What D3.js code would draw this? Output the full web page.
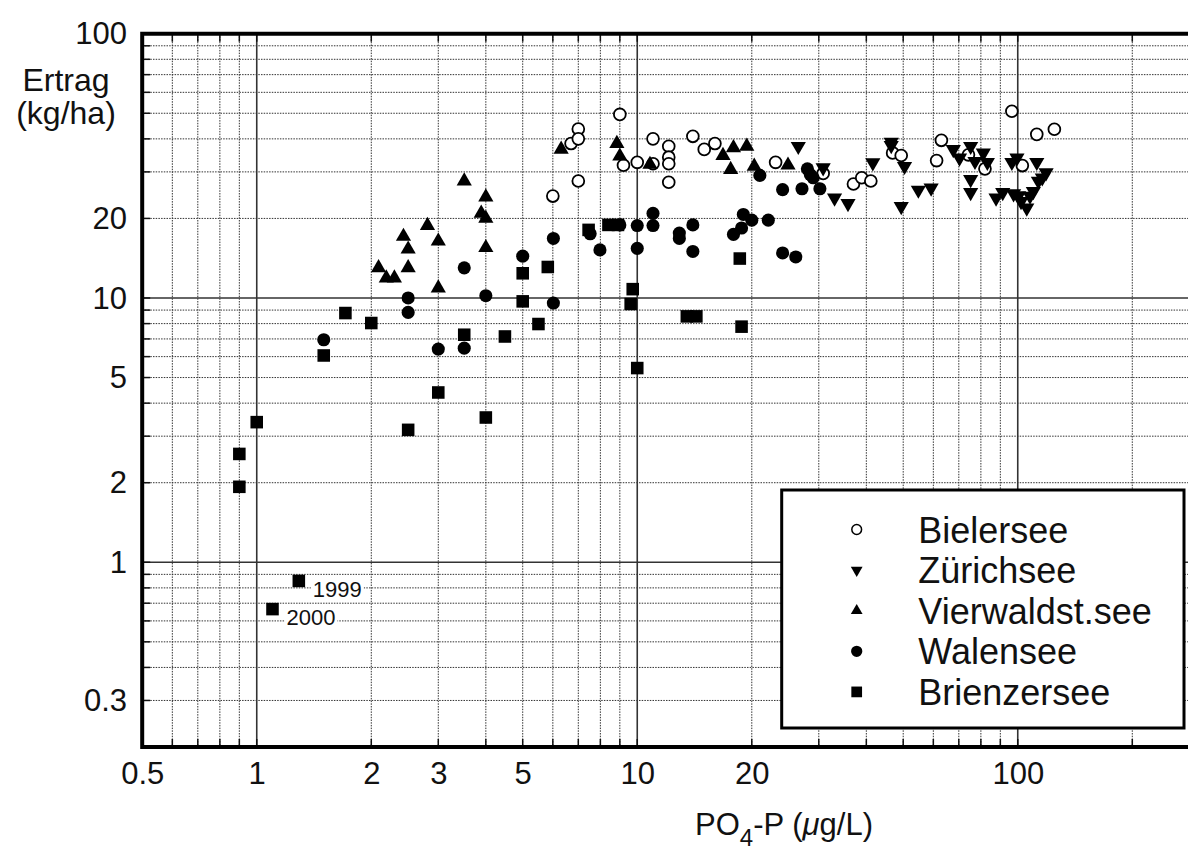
<!DOCTYPE html>
<html><head><meta charset="utf-8">
<script src="https://cdn.jsdelivr.net/npm/d3@7"></script>
<style>body{margin:0;background:#fff;overflow:hidden} svg{display:block}</style>
</head><body><svg id="c" width="1188" height="853"></svg>
<script>
// ---------- data ----------
const seriesNames = ["Bielersee", "Zürichsee", "Vierwaldst.see", "Walensee", "Brienzersee"];

const bielersee = [[6.0,24.3],[6.7,38.4],[7.0,43.6],[7.0,40.0],[7.0,27.7],[9.0,49.5],[9.2,31.8],[10.0,32.6],[11.0,40.0],[11.0,32.2],[12.1,37.5],[12.1,34.1],[12.1,32.2],[12.1,27.4],[14.0,40.9],[15.0,36.5],[16.0,38.4],[23.1,32.6],[30.8,29.6],[37.0,27.0],[38.9,28.5],[41.1,27.7],[46.9,35.4],[49.4,34.6],[61.2,33.1],[63.0,39.5],[74.2,34.8],[82.0,30.8],[96.5,50.9],[102.8,31.7],[112.2,41.6],[124.8,43.5]];

const zuerichsee = [[26.5,37.5],[30.8,31.1],[33.0,23.9],[35.8,22.8],[41.6,32.5],[46.5,38.9],[46.5,37.8],[50.4,31.5],[49.4,22.2],[54.8,25.6],[59.2,26.1],[67.7,36.5],[70.3,33.9],[75.2,37.5],[77.2,32.9],[75.2,28.1],[75.2,25.1],[81.2,35.4],[83.2,32.6],[87.7,23.9],[91.3,25.1],[96.5,32.6],[97.5,24.8],[99.5,33.9],[100.5,24.4],[102.0,23.2],[105.6,21.9],[107.7,24.3],[109.9,25.3],[112.2,32.6],[113.3,27.7],[116.0,28.5],[118.7,29.8]];

const vierwaldstaettersee = [[2.09,13.0],[2.19,11.9],[2.30,11.9],[2.43,17.1],[2.50,15.3],[2.50,13.0],[2.81,18.8],[3.0,16.4],[3.0,10.9],[3.51,27.7],[4.0,24.1],[3.89,20.9],[4.0,20.0],[4.0,15.5],[6.31,36.5],[8.84,38.4],[9.0,34.4],[10.8,32.0],[16.8,34.6],[17.9,37.0],[19.4,37.5],[17.6,30.6],[20.3,31.5],[24.9,31.8]];

const walensee = [[1.5,6.95],[2.5,10.0],[2.5,8.82],[3.0,6.41],[3.51,13.0],[3.51,6.46],[4.0,10.2],[5.0,14.4],[6.02,16.8],[6.02,9.57],[7.52,17.5],[7.98,15.2],[9.0,18.9],[10.0,18.8],[10.0,15.4],[11.0,20.9],[11.0,18.8],[12.9,17.6],[12.9,16.8],[14.0,18.9],[14.0,15.0],[17.9,17.4],[18.8,18.4],[19.0,20.7],[20.0,19.7],[22.1,19.7],[21.0,29.1],[24.1,25.7],[27.1,25.9],[24.1,14.8],[26.1,14.3],[28.0,30.8],[28.5,29.3],[29.0,28.5],[30.2,25.9]];

const brienzersee = [[0.9,2.57],[0.9,1.93],[1.0,3.39],[1.29,0.85],[1.10,0.665],[1.5,6.06],[1.71,8.77],[2.0,8.04],[2.5,3.17],[3.0,4.39],[3.51,7.26],[4.0,3.53],[4.49,7.15],[5.0,9.71],[5.0,12.4],[5.5,7.97],[5.82,13.1],[7.45,18.1],[8.4,18.9],[8.9,18.9],[9.61,9.49],[9.73,10.8],[10.0,5.43],[13.5,8.52],[14.3,8.52],[18.6,14.1],[18.8,7.79]];

const annotationX = [1.29, 1.10];
const annotationY = [0.85, 0.665];
const annotationLabels = ["1999", "2000"];

const xTickLabels = [0.5, 1, 2, 3, 5, 10, 20, 100];
const yTickLabels = [0.3, 1, 2, 5, 10, 20, 100];
const yTitleLines = ["Ertrag", "(kg/ha)"];

// ---------- setup ----------
const FONT = "'Liberation Sans', Arial, Helvetica, sans-serif";
const svg = d3.select("#c");
const W = 1188;
const x = d3.scaleLog().domain([0.5, 300]).range([142.2, 1199.3]);
const y = d3.scaleLog().domain([0.2, 100]).range([747, 33.7]);
const [x0] = x.range();
const [yB, yT] = y.range();

const isDecade = v => Math.abs(Math.log10(v) - Math.round(Math.log10(v))) < 1e-9;
const xGrid = x.ticks().filter(v => v > 0.5 && v < 300);
const yGrid = y.ticks().filter(v => v > 0.2 && v < 100);

// dotted minor grid
const grid = svg.append("g");
grid.selectAll(".vx").data(xGrid.filter(v => !isDecade(v))).join("line")
  .attr("x1", d => x(d)).attr("x2", d => x(d)).attr("y1", yT).attr("y2", yB)
  .attr("stroke", "#333").attr("stroke-width", 1).attr("stroke-dasharray", "1.5,1.2");
grid.selectAll(".hy").data(yGrid.filter(v => !isDecade(v))).join("line")
  .attr("x1", x0).attr("x2", W + 20).attr("y1", d => y(d)).attr("y2", d => y(d))
  .attr("stroke", "#333").attr("stroke-width", 1).attr("stroke-dasharray", "1.5,1.2");
// solid decade lines
grid.selectAll(".vmaj").data(xGrid.filter(isDecade)).join("line")
  .attr("x1", d => x(d)).attr("x2", d => x(d)).attr("y1", yT).attr("y2", yB)
  .attr("stroke", "#333").attr("stroke-width", 1.6);
grid.selectAll(".hmaj").data(yGrid.filter(isDecade)).join("line")
  .attr("x1", x0).attr("x2", W + 20).attr("y1", d => y(d)).attr("y2", d => y(d))
  .attr("stroke", "#333").attr("stroke-width", 1.6);

// small solid ticks on the frame
const tk = svg.append("g").attr("stroke", "#111").attr("stroke-width", 1.5);
xGrid.forEach(v => {
  tk.append("line").attr("x1", x(v)).attr("x2", x(v)).attr("y1", yT).attr("y2", yT + 8);
  tk.append("line").attr("x1", x(v)).attr("x2", x(v)).attr("y1", yB).attr("y2", yB - 8);
});
yGrid.forEach(v => {
  tk.append("line").attr("x1", x0).attr("x2", x0 + 8).attr("y1", y(v)).attr("y2", y(v));
});

// frame (top, left, bottom)
svg.append("path")
  .attr("d", `M${W + 20},${yT}H${x0}V${yB}H${W + 20}`)
  .attr("fill", "none").attr("stroke", "#000").attr("stroke-width", 4);

// axes labels
const xAxis = svg.append("g").attr("transform", `translate(0,${yB})`)
  .call(d3.axisBottom(x).tickValues(xTickLabels).tickFormat(d3.format("~g")).tickSize(0));
xAxis.select(".domain").remove();
xAxis.selectAll("text").attr("y", 36.5).attr("dy", null)
  .attr("font-family", FONT).attr("font-size", 31).attr("fill", "#111");

const yAxis = svg.append("g").attr("transform", `translate(127,0)`)
  .call(d3.axisLeft(y).tickValues(yTickLabels).tickFormat(d3.format("~g")).tickSize(0).tickPadding(0));
yAxis.select(".domain").remove();
yAxis.selectAll("text").attr("x", 0).attr("dy", "0.33em")
  .attr("font-family", FONT).attr("font-size", 31).attr("fill", "#111");

// y title
svg.append("g").selectAll("text").data(yTitleLines).join("text")
  .attr("x", 66).attr("y", (d, i) => 91 + i * 33)
  .attr("text-anchor", "middle").attr("font-family", FONT).attr("font-size", 32).attr("fill", "#111")
  .text(d => d);

// x title
const xt = svg.append("text").attr("x", 695).attr("y", 835)
  .attr("font-family", FONT).attr("font-size", 31).attr("fill", "#111");
xt.append("tspan").text("PO");
xt.append("tspan").attr("dy", 11).attr("font-size", 24).text("4");
xt.append("tspan").attr("dy", -11).text("-P (");
xt.append("tspan").attr("font-style", "italic").text("\u03bc");
xt.append("tspan").text("g/L)");

// ---------- points ----------
const sym = {
  circleOpen: d3.symbol().type(d3.symbolCircle).size(110),
  down: d3.symbol().type(d3.symbolTriangle).size(100),
  up: d3.symbol().type(d3.symbolTriangle).size(100),
  circle: d3.symbol().type(d3.symbolCircle).size(135),
  square: d3.symbol().type(d3.symbolSquare).size(158)
};
const defs = [
  {data: bielersee, path: sym.circleOpen, fill: "#fff", stroke: "#000", sw: 1.8, rot: 0},
  {data: zuerichsee, path: sym.down, fill: "#000", stroke: "none", sw: 0, rot: 180},
  {data: vierwaldstaettersee, path: sym.up, fill: "#000", stroke: "none", sw: 0, rot: 0},
  {data: walensee, path: sym.circle, fill: "#000", stroke: "none", sw: 0, rot: 0},
  {data: brienzersee, path: sym.square, fill: "#000", stroke: "none", sw: 0, rot: 0}
];
const pts = svg.append("g");
defs.forEach(s => {
  pts.append("g").selectAll("path").data(s.data).join("path")
    .attr("d", s.path())
    .attr("transform", d => `translate(${x(d[0])},${y(d[1])}) rotate(${s.rot})`)
    .attr("fill", s.fill).attr("stroke", s.stroke).attr("stroke-width", s.sw);
});

// annotations
const ann = svg.append("g");
annotationLabels.forEach((lab, i) => {
  const t = ann.append("text")
    .attr("x", x(annotationX[i]) + 14).attr("y", y(annotationY[i]) + 16)
    .attr("font-family", FONT).attr("font-size", 22).attr("fill", "#111").text(lab);
  const bb = t.node().getBBox();
  ann.insert("rect", "text").attr("x", bb.x - 2).attr("y", bb.y).attr("width", bb.width + 4)
    .attr("height", bb.height).attr("fill", "#fff");
});

// ---------- legend ----------
const lg = svg.append("g").attr("transform", "translate(781.7,490)");
lg.append("rect").attr("width", 402.3).attr("height", 238)
  .attr("fill", "#fff").attr("stroke", "#000").attr("stroke-width", 3);
const lsym = [
  {path: d3.symbol().type(d3.symbolCircle).size(75), fill: "#fff", stroke: "#000", sw: 1.5, rot: 0},
  {path: d3.symbol().type(d3.symbolTriangle).size(60), fill: "#000", stroke: "none", sw: 0, rot: 180},
  {path: d3.symbol().type(d3.symbolTriangle).size(60), fill: "#000", stroke: "none", sw: 0, rot: 0},
  {path: d3.symbol().type(d3.symbolCircle).size(100), fill: "#000", stroke: "none", sw: 0, rot: 0},
  {path: d3.symbol().type(d3.symbolSquare).size(115), fill: "#000", stroke: "none", sw: 0, rot: 0}
];
seriesNames.forEach((name, i) => {
  const cy = 39.5 + i * 40.6;
  const s = lsym[i];
  lg.append("path").attr("d", s.path()).attr("transform", `translate(75,${cy}) rotate(${s.rot})`)
    .attr("fill", s.fill).attr("stroke", s.stroke).attr("stroke-width", s.sw);
  lg.append("text").attr("x", 136.6).attr("y", cy + 13)
    .attr("font-family", FONT).attr("font-size", 36).attr("fill", "#111").text(name);
});
</script>
</body></html>
